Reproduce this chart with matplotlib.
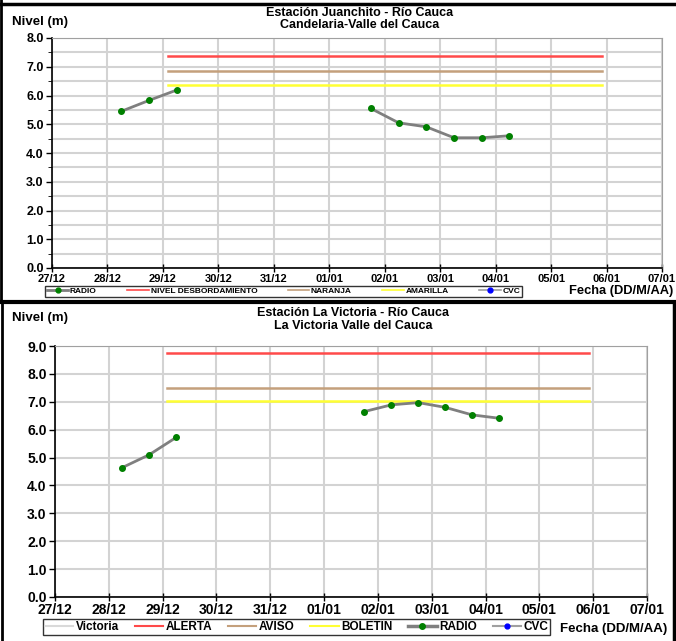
import matplotlib
matplotlib.use("Agg")
import matplotlib.pyplot as plt
import matplotlib.dates as mdates
from matplotlib.lines import Line2D
from matplotlib.ticker import MultipleLocator
import pandas as pd

plt.rcParams['font.family'] = ['Liberation Sans', 'DejaVu Sans']
plt.rcParams['font.weight'] = 'bold'

# --- datos Juanchito ---
juan_fechas = ["2010-12-28 06:00", "2010-12-28 18:00", "2010-12-29 06:00",
               "2011-01-01 18:00", "2011-01-02 06:00", "2011-01-02 18:00",
               "2011-01-03 06:00", "2011-01-03 18:00", "2011-01-04 06:00"]
juan_radio = [5.45, 5.83, 6.19, 5.55, 5.05, 4.91, 4.53, 4.53, 4.60]
juan_tramos = [(0, 3), (3, 9)]
juan_umbral_nombres = ["NIVEL DESBORDAMIENTO", "NARANJA", "AMARILLA"]
juan_umbrales = [7.36, 6.86, 6.36]

# --- datos La Victoria ---
vic_fechas = ["2010-12-28 06:00", "2010-12-28 18:00", "2010-12-29 06:00",
              "2011-01-01 18:00", "2011-01-02 06:00", "2011-01-02 18:00",
              "2011-01-03 06:00", "2011-01-03 18:00", "2011-01-04 06:00"]
vic_radio = [4.64, 5.10, 5.72, 6.65, 6.89, 6.97, 6.80, 6.53, 6.41]
vic_tramos = [(0, 3), (3, 9)]
vic_umbral_nombres = ["ALERTA", "AVISO", "BOLETIN"]
vic_umbrales = [8.74, 7.51, 7.01]

umbral_inicio = "2010-12-29 02:00"
umbral_fin = "2011-01-05 22:00"
eje_inicio = "2010-12-27"
eje_fin = "2011-01-07"

colores_umbral = ['#ff4a4a', '#c4a07c', '#ffff33']
gris_linea = '#7f7f7f'
verde = '#008000'
grid_color = '#d3d3d3'

W, H = 676, 641
fig = plt.figure(figsize=(W / 100, H / 100), dpi=100)


def px_axes(left, right, top, bottom):
    return fig.add_axes([left / W, 1 - bottom / H, (right - left) / W, (bottom - top) / H])


def estilo_eje(ax, ymax, minor, fs_x, fs_y):
    ax.set_xlim(pd.Timestamp(eje_inicio), pd.Timestamp(eje_fin))
    ax.set_ylim(0, ymax)
    ax.xaxis.set_major_locator(mdates.DayLocator())
    ax.xaxis.set_major_formatter(mdates.DateFormatter('%d/%m'))
    ax.yaxis.set_major_locator(MultipleLocator(1.0))
    ax.yaxis.set_major_formatter(plt.FuncFormatter(lambda v, p: f"{v:.1f}"))
    if minor:
        ax.yaxis.set_minor_locator(MultipleLocator(0.5))
        ax.grid(True, which='minor', axis='y', color=grid_color, lw=1.5)
    ax.grid(True, which='major', color=grid_color, lw=1.5)
    ax.set_axisbelow(True)
    for s in ['top', 'right']:
        ax.spines[s].set_color('#a0a0a0')
    for s in ['left', 'bottom']:
        ax.spines[s].set_color('black')
        ax.spines[s].set_linewidth(1.2)
    ax.tick_params(axis='x', labelsize=fs_x, direction='inout', length=6, width=1, pad=1)
    ax.tick_params(axis='y', labelsize=fs_y, direction='out', length=4, width=1, pad=2)
    ax.tick_params(axis='y', which='minor', length=3, direction='out')
    for lab in ax.get_xticklabels() + ax.get_yticklabels():
        lab.set_fontweight('bold')


def dibujar_radio(ax, fechas, valores, tramos):
    x = pd.to_datetime(fechas)
    for a, b in tramos:
        ax.plot(x[a:b], valores[a:b], color=gris_linea, lw=2.0, zorder=3)
        ax.plot(x[a:b], valores[a:b], ls='none', marker='o', ms=4,
                color=verde, mec=verde, zorder=4)


def dibujar_umbrales(ax, valores):
    x = [pd.Timestamp(umbral_inicio), pd.Timestamp(umbral_fin)]
    for v, c in zip(valores, colores_umbral):
        ax.plot(x, [v, v], color=c, lw=1.8, zorder=2)


# ---------------- Juanchito ----------------
ax1 = px_axes(52, 662, 38, 268)
estilo_eje(ax1, 8.0, True, 8, 9)
dibujar_umbrales(ax1, juan_umbrales)
dibujar_radio(ax1, juan_fechas, juan_radio, juan_tramos)
fig.text(360 / W, 1 - 13 / H, "Estación Juanchito - Río Cauca", ha='center', va='center',
         fontsize=9, fontweight='bold')
fig.text(360 / W, 1 - 24.5 / H, "Candelaria-Valle del Cauca", ha='center', va='center',
         fontsize=9, fontweight='bold')
fig.text(12 / W, 1 - 22 / H, "Nivel (m)", ha='left', va='center', fontsize=9.5, fontweight='bold')
fig.text(569 / W, 1 - 291 / H, "Fecha (DD/M/AA)", ha='left', va='center', fontsize=9.3,
         fontweight='bold')

h1 = [Line2D([], [], color=gris_linea, lw=2, marker='o', ms=3.5, mfc=verde, mec=verde)]
h1 += [Line2D([], [], color=c, lw=1.2) for c in colores_umbral]
h1 += [Line2D([], [], color='#a0a0a0', lw=1.2, marker='o', ms=3.5, mfc='blue', mec='blue')]
n1 = ["RADIO"] + juan_umbral_nombres + ["CVC"]
leg1 = fig.legend(h1, n1, loc='lower left', ncol=5, mode='expand',
                  bbox_to_anchor=(45 / W, 1 - 297 / H, 477 / W, 13 / H),
                  fontsize=6, frameon=True, fancybox=False, handlelength=2.6,
                  handletextpad=0.2, borderpad=0.2, borderaxespad=0, numpoints=1)
leg1.get_frame().set_edgecolor('black')
leg1.get_frame().set_linewidth(1.0)
for t in leg1.get_texts():
    t.set_fontweight('bold')

# ---------------- La Victoria ----------------
ax2 = px_axes(55, 647, 346, 597)
estilo_eje(ax2, 9.0, False, 10, 10)
dibujar_umbrales(ax2, vic_umbrales)
dibujar_radio(ax2, vic_fechas, vic_radio, vic_tramos)
fig.text(353 / W, 1 - 313.5 / H, "Estación La Victoria - Río Cauca", ha='center', va='center',
         fontsize=9, fontweight='bold')
fig.text(353 / W, 1 - 325.5 / H, "La Victoria Valle del Cauca", ha='center', va='center',
         fontsize=9, fontweight='bold')
fig.text(12 / W, 1 - 318 / H, "Nivel (m)", ha='left', va='center', fontsize=9.5, fontweight='bold')
fig.text(560 / W, 1 - 629 / H, "Fecha (DD/M/AA)", ha='left', va='center', fontsize=9.5,
         fontweight='bold')

h2 = [Line2D([], [], color='#d9d9d9', lw=1.5)]
h2 += [Line2D([], [], color=c, lw=1.5) for c in colores_umbral]
h2 += [Line2D([], [], color=gris_linea, lw=2.5, marker='o', ms=4, mfc=verde, mec=verde)]
h2 += [Line2D([], [], color='#a0a0a0', lw=1.5, marker='o', ms=3.5, mfc='blue', mec='blue')]
n2 = ["Victoria"] + vic_umbral_nombres + ["RADIO", "CVC"]
leg2 = fig.legend(h2, n2, loc='lower left', ncol=6, mode='expand',
                  bbox_to_anchor=(43 / W, 1 - 635 / H, 507 / W, 14 / H),
                  fontsize=8.5, frameon=True, fancybox=False, handlelength=2.4,
                  handletextpad=0.2, borderpad=0.15, borderaxespad=0, numpoints=1)
leg2.get_frame().set_edgecolor('black')
leg2.get_frame().set_linewidth(1.0)
for t in leg2.get_texts():
    t.set_fontweight('bold')

# marcos negros de los paneles
fig.add_artist(Line2D([0, 1], [1 - 3.5 / H, 1 - 3.5 / H], transform=fig.transFigure, color='black', lw=2.5))
fig.add_artist(Line2D([1 / W, 1 / W], [1 - 300 / H, 1], transform=fig.transFigure, color='black', lw=2))
fig.add_artist(Line2D([0, 1], [1 - 302 / H, 1 - 302 / H], transform=fig.transFigure, color='black', lw=3))
fig.add_artist(Line2D([1.5 / W, 1.5 / W], [0, 1 - 302 / H], transform=fig.transFigure, color='black', lw=2))
fig.add_artist(Line2D([674 / W, 674 / W], [0, 1 - 302 / H], transform=fig.transFigure, color='black', lw=2.5))

fig.savefig("out.png", dpi=100)
